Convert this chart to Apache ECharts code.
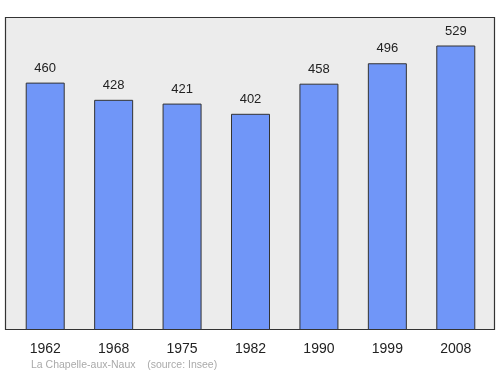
<!DOCTYPE html>
<html><head><meta charset="utf-8">
<script src="https://cdn.jsdelivr.net/npm/echarts@6/dist/echarts.min.js"></script>
<style>html,body{margin:0;padding:0;background:#fff}#c{width:500px;height:374px}</style>
</head><body><div id="c"></div>
<script>
var years = ['1962','1968','1975','1982','1990','1999','2008'];
var population = [460, 428, 421, 402, 458, 496, 529];
var footer = 'La Chapelle-aux-Naux    (source: Insee)';

var chart = echarts.init(document.getElementById('c'), null, {renderer: 'canvas'});
chart.setOption({
  animation: false,
  graphic: [
    {type: 'rect', z: -10, shape: {x: 5.5, y: 17.5, width: 489, height: 312},
     style: {fill: '#ececec', stroke: '#333', lineWidth: 1.2}},
    {type: 'text', left: 31, top: 359.5,
     style: {text: footer, fill: '#aaaaaa', font: '10.5px "Liberation Sans", Arial, sans-serif'}}
  ],
  grid: {left: 11, right: 10, top: 17, bottom: 44},
  xAxis: {
    type: 'category', data: years,
    axisLine: {show: false}, axisTick: {show: false},
    axisLabel: {color: '#222', fontSize: 14, margin: 12, fontFamily: '"Liberation Sans", Arial, sans-serif'}
  },
  yAxis: {type: 'value', min: 0, max: 582, show: false, splitLine: {show: false}},
  series: [{
    type: 'bar', data: population, barWidth: 39,
    itemStyle: {color: '#7096f8', borderColor: '#333', borderWidth: 1},
    label: {show: true, position: 'top', distance: 8, color: '#222', fontSize: 13,
            fontFamily: '"Liberation Sans", Arial, sans-serif'}
  }]
});
</script></body></html>
